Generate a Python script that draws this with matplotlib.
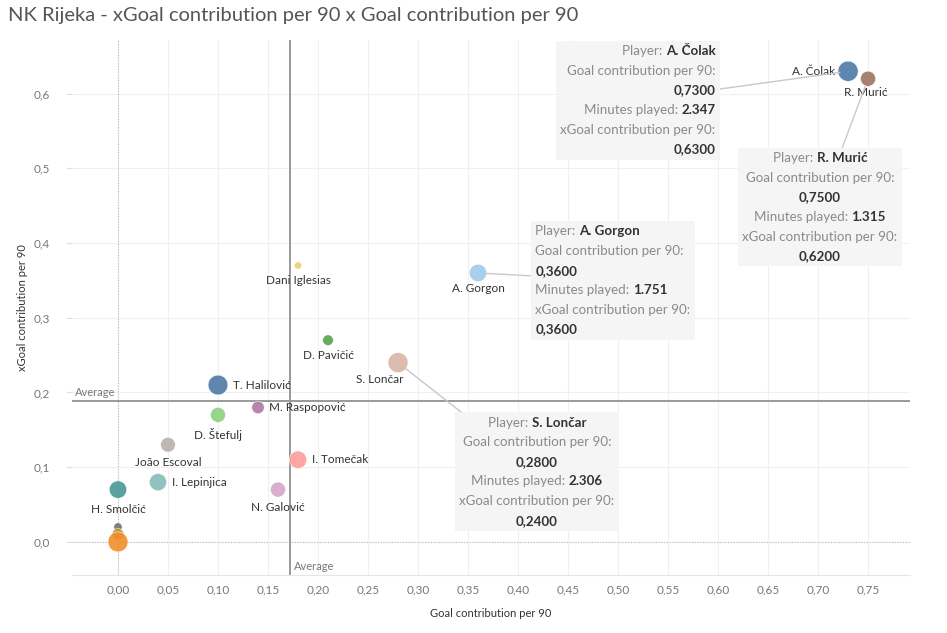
import matplotlib as mpl
import matplotlib.pyplot as plt
from matplotlib.offsetbox import TextArea, HPacker, VPacker, AnnotationBbox

mpl.rcParams["font.family"] = ["Lato", "DejaVu Sans"]

players = ["A. Čolak", "R. Murić", "A. Gorgon", "Dani Iglesias", "D. Pavičić",
           "S. Lončar", "T. Halilović", "M. Raspopović", "D. Štefulj", "João Escoval",
           "I. Tomečak", "I. Lepinjica", "N. Galović", "H. Smolčić", "", "", ""]
gc90 = [0.73, 0.75, 0.36, 0.18, 0.21, 0.28, 0.10, 0.14, 0.10, 0.05,
        0.18, 0.04, 0.16, 0.00, 0.00, 0.00, 0.00]
xgc90 = [0.63, 0.62, 0.36, 0.37, 0.27, 0.24, 0.21, 0.18, 0.17, 0.13,
         0.11, 0.08, 0.07, 0.07, 0.02, 0.01, 0.00]
minutes = [2347, 1315, 1751, 290, 650, 2306, 2250, 900, 1300, 1250,
           1750, 1700, 1300, 1750, 400, 800, 2300]
colors = ["#4e79a7", "#9d7660", "#a0cbe8", "#f1ce63", "#59a14f", "#d7b5a6", "#4e79a7",
          "#b07aa1", "#8cd17d", "#bab0ac", "#ff9d9a", "#86bcb6", "#d4a6c8", "#499894",
          "#79706e", "#b6992d", "#f28e2b"]
# label offset (points) and alignment per player
label_pos = [(-9, 0, "right", "center"), (-2, -10, "center", "center"), (0, -11, "center", "center"),
             (0, -11, "center", "center"), (0, -11, "center", "center"), (-13, -12, "center", "center"),
             (11, 0, "left", "center"), (8, 0, "left", "center"), (0, -14, "center", "center"),
             (0, -13, "center", "center"), (10, 0, "left", "center"), (10, 0, "left", "center"),
             (0, -13, "center", "center"), (0, -14, "center", "center")]

avg_gc = 0.172
avg_xgc = 0.1885

xticks = [0.0, 0.05, 0.10, 0.15, 0.20, 0.25, 0.30, 0.35, 0.40, 0.45, 0.50, 0.55, 0.60, 0.65, 0.70, 0.75]
yticks = [0.0, 0.1, 0.2, 0.3, 0.4, 0.5, 0.6]

# tooltips: player index, box centre (data), alignment
tooltips = [(0, (0.52, 0.591), "right"), (1, (0.702, 0.448), "center"),
            (2, (0.495, 0.350), "left"), (5, (0.419, 0.094), "center")]

fig = plt.figure(figsize=(9.47, 6.33), dpi=100)
ax = fig.add_axes([0.076, 0.092, 0.885, 0.845])
ax.set_xlim(-0.046, 0.792)
ax.set_ylim(-0.044, 0.672)

for v in xticks:
    ax.axvline(v, color="#f0f0f0", lw=0.8, zorder=0)
for v in yticks:
    ax.axhline(v, color="#f0f0f0", lw=0.8, zorder=0)
ax.axvline(0, color="#bdbdbd", lw=0.8, ls=(0, (1, 1.5)), zorder=1)
ax.axhline(0, color="#bdbdbd", lw=0.8, ls=(0, (1, 1.5)), zorder=1)

ax.axvline(avg_gc, color="#999999", lw=1.4, zorder=1)
ax.axhline(avg_xgc, color="#999999", lw=1.4, zorder=1)
ax.text(-0.043, avg_xgc + 0.004, "Average", color="#777777", fontsize=8, va="bottom")
ax.text(avg_gc + 0.004, -0.040, "Average", color="#777777", fontsize=8, va="bottom")

sizes = [m * 0.09 for m in minutes]
ax.scatter(gc90, xgc90, s=sizes, c=colors, alpha=0.9, edgecolors="white", linewidths=0.4, zorder=3)

for i, (dx, dy, ha, va) in enumerate(label_pos):
    ax.annotate(players[i], (gc90[i], xgc90[i]), xytext=(dx, dy), textcoords="offset points",
                ha=ha, va=va, fontsize=8.5, color="#333333", zorder=4)

grey = dict(color="#8a8a8a", fontsize=9.6)
dark = dict(color="#333333", fontsize=9.6, fontweight="bold")
for i, box_xy, align in tooltips:
    lines = [
        HPacker(children=[TextArea("Player: ", textprops=grey), TextArea(players[i], textprops=dark)], pad=0, sep=0),
        TextArea("Goal contribution per 90:", textprops=grey),
        TextArea(f"{gc90[i]:.4f}".replace(".", ","), textprops=dark),
        HPacker(children=[TextArea("Minutes played: ", textprops=grey),
                          TextArea(f"{minutes[i]:,}".replace(",", "."), textprops=dark)], pad=0, sep=0),
        TextArea("xGoal contribution per 90:", textprops=grey),
        TextArea(f"{xgc90[i]:.4f}".replace(".", ","), textprops=dark),
    ]
    pack = VPacker(children=lines, align=align, pad=0, sep=5.5)
    ab = AnnotationBbox(pack, (gc90[i], xgc90[i]), xybox=box_xy, xycoords="data", boxcoords="data",
                        frameon=True, pad=0.9,
                        bboxprops=dict(facecolor="#f5f5f5", edgecolor="none", boxstyle="square"),
                        arrowprops=dict(arrowstyle="-", color="#c8c8c8", lw=1, shrinkA=0, shrinkB=6))
    ab.set_zorder(5)
    ax.add_artist(ab)

ax.set_xticks(xticks)
ax.set_xticklabels([f"{v:.2f}".replace(".", ",") for v in xticks])
ax.set_yticks(yticks)
ax.set_yticklabels([f"{v:.1f}".replace(".", ",") for v in yticks])
ax.tick_params(colors="#e0e0e0", labelcolor="#777777", labelsize=8.5, length=4)
ax.tick_params(axis="y", pad=12)
ax.tick_params(axis="x", length=0, pad=7)
for s in ["top", "right", "left"]:
    ax.spines[s].set_visible(False)
ax.spines["bottom"].set_color("#e6e6e6")

ax.set_xlabel("Goal contribution per 90", fontsize=8, color="#333333", labelpad=9)
ax.set_ylabel("xGoal contribution per 90", fontsize=8, color="#333333", labelpad=4)

fig.text(0.008, 0.975, "NK Rijeka - xGoal contribution per 90 x Goal contribution per 90",
         fontsize=14.5, color="#555555", va="center")

plt.savefig("out.png", dpi=100)
